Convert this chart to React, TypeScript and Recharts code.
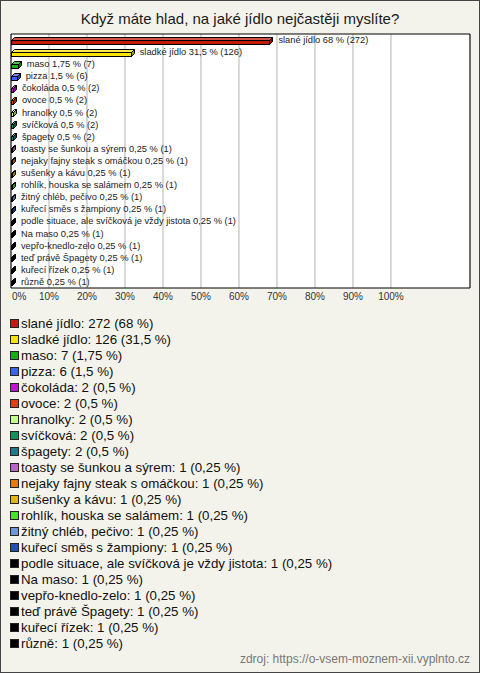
import React from 'react';
import { BarChart, Bar, XAxis, YAxis, CartesianGrid, Cell, LabelList, Legend, ReferenceArea } from 'recharts';

const categories = [
  'slané jídlo',
  'sladké jídlo',
  'maso',
  'pizza',
  'čokoláda',
  'ovoce',
  'hranolky',
  'svíčková',
  'špagety',
  'toasty se šunkou a sýrem',
  'nejaky fajny steak s omáčkou',
  'sušenky a kávu',
  'rohlík, houska se salámem',
  'žitný chléb, pečivo',
  'kuřecí směs s žampiony',
  'podle situace, ale svíčková je vždy jistota',
  'Na maso',
  'vepřo-knedlo-zelo',
  'teď právě Špagety',
  'kuřecí řízek',
  'různě',
];
const counts = [272, 126, 7, 6, 2, 2, 2, 2, 2, 1, 1, 1, 1, 1, 1, 1, 1, 1, 1, 1, 1];
const percents = [68, 31.5, 1.75, 1.5, 0.5, 0.5, 0.5, 0.5, 0.5, 0.25, 0.25, 0.25, 0.25, 0.25, 0.25, 0.25, 0.25, 0.25, 0.25, 0.25, 0.25];
const tickValues = [0, 10, 20, 30, 40, 50, 60, 70, 80, 90, 100];
const colors = [
  '#c41a0a', '#f5e30a', '#12b012', '#3a63f0', '#c412d2', '#e0400c', '#c4ff8a', '#10925a',
  '#1e7a8a', '#c060c8', '#e67a10', '#e6b414', '#44e42c', '#6a96e4', '#2450b0',
  '#000000', '#000000', '#000000', '#000000', '#000000', '#000000',
];

const title = 'Když máte hlad, na jaké jídlo nejčastěji myslíte?';
const source = 'zdroj: https://o-vsem-moznem-xii.vyplnto.cz';
const domainMax = 120.8;

const fmt = (v: number) => String(v).replace('.', ',');

const data = categories.map((name, i) => ({
  name,
  value: percents[i],
  label: `${name} ${fmt(percents[i])} % (${counts[i]})`,
}));

const FONT = '"Liberation Sans", Arial, sans-serif';

function shade(hex: string, f: number) {
  const n = parseInt(hex.slice(1), 16);
  let r = (n >> 16) & 255, g = (n >> 8) & 255, b = n & 255;
  const t = f < 0 ? 0 : 255;
  const p = Math.abs(f);
  r = Math.round((t - r) * p + r);
  g = Math.round((t - g) * p + g);
  b = Math.round((t - b) * p + b);
  return `rgb(${r},${g},${b})`;
}

const Bar3D = (props: any) => {
  const { x, y, width, height, fill } = props;
  const d = 3;
  const h = 4;
  const cy = y + height / 2;
  const top = Math.round(cy - (h - d) / 2) + 0.5;
  const fx = Math.round(x) + 0.5;
  const fw = Math.max(Math.round(width), 1);
  return (
    <g stroke="#000" strokeWidth={1}>
      <polygon
        points={`${fx},${top} ${fx + d},${top - d} ${fx + fw + d},${top - d} ${fx + fw},${top}`}
        fill={shade(fill, 0.25)}
      />
      <polygon
        points={`${fx + fw},${top} ${fx + fw + d},${top - d} ${fx + fw + d},${top - d + h} ${fx + fw},${top + h}`}
        fill={shade(fill, -0.35)}
      />
      <rect x={fx} y={top} width={fw} height={h} fill={fill} />
    </g>
  );
};

const BarLabel = (props: any) => {
  const { x, y, width, height, value } = props;
  return (
    <text
      x={x + width + 9}
      y={y + height / 2}
      dy={3}
      fontSize={9.3}
      fontFamily={FONT}
      fill="#222"
    >
      {value}
    </text>
  );
};

const AxisTick = (props: any) => {
  const { x, y, payload } = props;
  const v = payload.value;
  return (
    <text
      x={v === 0 ? x + 1 : x}
      y={y}
      dy={12}
      textAnchor={v === 0 ? 'start' : 'middle'}
      fontSize={10}
      fontFamily={FONT}
      fill="#333"
    >
      {`${v}%`}
    </text>
  );
};

const LegendList = () => (
  <div style={{ fontFamily: FONT, fontSize: 13.3, color: '#111' }}>
    {categories.map((c, i) => (
      <div
        key={c}
        style={{ height: 16, display: 'flex', alignItems: 'center', whiteSpace: 'nowrap' }}
      >
        <span
          style={{
            display: 'inline-block',
            width: 7,
            height: 7,
            background: colors[i],
            border: '1px solid #222',
            marginRight: 2,
          }}
        />
        <span>{`${c}: ${counts[i]} (${fmt(percents[i])} %)`}</span>
      </div>
    ))}
  </div>
);

export default function App() {
  return (
    <div
      style={{
        position: 'absolute',
        left: 0,
        top: 0,
        width: 480,
        height: 673,
        background: '#f4f3eb',
        overflow: 'hidden',
      }}
    >
      <div
        style={{
          position: 'absolute',
          top: 10,
          left: 0,
          width: 480,
          textAlign: 'center',
          fontFamily: FONT,
          fontSize: 15,
          color: '#1a1a1a',
          whiteSpace: 'nowrap',
        }}
      >
        {title}
      </div>
      <div style={{ position: 'absolute', left: 0, top: 0 }}>
        <BarChart
          width={480}
          height={673}
          data={data}
          layout="vertical"
          margin={{ top: 34, right: 10, left: 11, bottom: 355 }}
          barCategoryGap={0}
        >
          <CartesianGrid horizontal={false} stroke="#b4b4b4" fill="#ffffff" />
          <XAxis
            type="number"
            domain={[0, domainMax]}
            ticks={tickValues}
            axisLine={false}
            tickLine={false}
            tickSize={0}
            tickMargin={0}
            height={30}
            tick={<AxisTick />}
            interval={0}
          />
          <YAxis type="category" dataKey="name" hide />
          <ReferenceArea x1={0} x2={domainMax} stroke="#000" strokeWidth={1} fill="none" fillOpacity={0} />
          <Bar dataKey="value" barSize={6} isAnimationActive={false} shape={<Bar3D />}>
            {data.map((d, i) => (
              <Cell key={d.name} fill={colors[i]} />
            ))}
            <LabelList dataKey="label" content={<BarLabel />} />
          </Bar>
          <Legend
            layout="vertical"
            align="center"
            verticalAlign="middle"
            content={<LegendList />}
            wrapperStyle={{ position: 'absolute', top: 315, left: 10, width: 460 }}
          />
        </BarChart>
      </div>
      <div
        style={{
          position: 'absolute',
          top: 652,
          right: 10,
          fontFamily: FONT,
          fontSize: 12,
          color: '#777',
          whiteSpace: 'nowrap',
        }}
      >
        {source}
      </div>
      <div
        style={{
          position: 'absolute',
          left: 0,
          top: 0,
          width: 480,
          height: 673,
          boxSizing: 'border-box',
          border: '1px solid #444',
          pointerEvents: 'none',
        }}
      />
    </div>
  );
}
